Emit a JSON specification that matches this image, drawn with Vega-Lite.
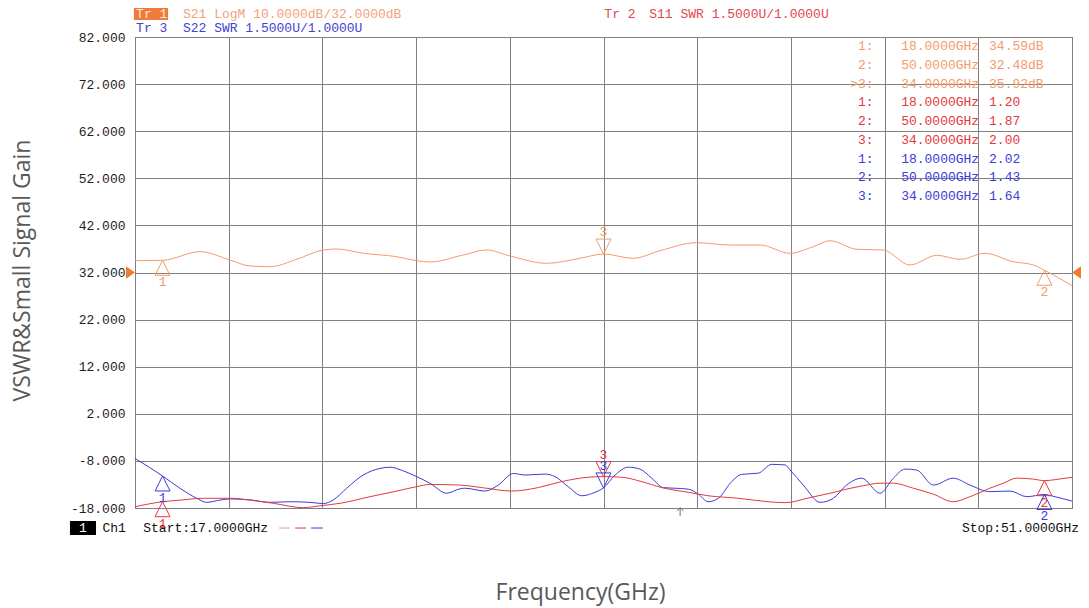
{
  "$schema": "https://vega.github.io/schema/vega-lite/v6.json",
  "width": 937,
  "height": 471,
  "autosize": "none",
  "padding": {"left": 135, "top": 37, "right": 17, "bottom": 100},
  "background": "#ffffff",
  "config": {
    "view": {"stroke": "#5a5a5a", "strokeWidth": 1},
    "text": {"font": "Liberation Mono", "fontSize": 13},
    "axis": {"gridColor": "#808080", "gridWidth": 1, "gridOpacity": 1, "domain": false, "ticks": false, "labelFont": "Liberation Mono", "labelFontSize": 13, "labelColor": "#1e1e1e", "titleFont": "Open Sans", "titleFontSize": 23, "titleFontWeight": "normal", "titleColor": "#595959"}
  },
  "datasets": {
    "s21": [
      {"f": 17.00, "v": 34.51}, {"f": 18.00, "v": 34.59}, {"f": 19.36, "v": 36.42}, {"f": 20.45, "v": 34.65},
      {"f": 21.17, "v": 33.38}, {"f": 21.90, "v": 33.23}, {"f": 22.87, "v": 34.80}, {"f": 23.83, "v": 36.78},
      {"f": 24.32, "v": 36.99}, {"f": 25.29, "v": 36.08}, {"f": 26.50, "v": 35.35}, {"f": 27.22, "v": 34.51},
      {"f": 27.70, "v": 34.23}, {"f": 28.91, "v": 35.72}, {"f": 29.76, "v": 36.78}, {"f": 30.61, "v": 35.50},
      {"f": 31.94, "v": 33.95}, {"f": 33.15, "v": 35.02}, {"f": 34.00, "v": 35.92}, {"f": 35.08, "v": 35.02},
      {"f": 36.05, "v": 36.63}, {"f": 37.38, "v": 38.33}, {"f": 38.60, "v": 37.84}, {"f": 39.68, "v": 37.84},
      {"f": 40.77, "v": 36.08}, {"f": 41.61, "v": 37.48}, {"f": 42.22, "v": 38.75}, {"f": 43.19, "v": 36.93},
      {"f": 44.15, "v": 36.78}, {"f": 45.12, "v": 33.59}, {"f": 46.09, "v": 35.65}, {"f": 46.94, "v": 34.80},
      {"f": 47.84, "v": 36.08}, {"f": 48.87, "v": 34.29}, {"f": 49.60, "v": 33.59}, {"f": 50.00, "v": 32.48},
      {"f": 51.00, "v": 29.20}
    ],
    "swr": [
      {"trace": "Tr3", "f": 17.00, "v": 2.58}, {"trace": "Tr3", "f": 18.00, "v": 2.02}, {"trace": "Tr3", "f": 18.63, "v": 1.63},
      {"trace": "Tr3", "f": 19.24, "v": 1.31}, {"trace": "Tr3", "f": 19.60, "v": 1.18}, {"trace": "Tr3", "f": 20.08, "v": 1.25},
      {"trace": "Tr3", "f": 20.45, "v": 1.29}, {"trace": "Tr3", "f": 21.17, "v": 1.26}, {"trace": "Tr3", "f": 21.90, "v": 1.18},
      {"trace": "Tr3", "f": 22.62, "v": 1.20}, {"trace": "Tr3", "f": 23.35, "v": 1.18}, {"trace": "Tr3", "f": 23.83, "v": 1.14},
      {"trace": "Tr3", "f": 24.20, "v": 1.26}, {"trace": "Tr3", "f": 24.68, "v": 1.63}, {"trace": "Tr3", "f": 25.28, "v": 2.05},
      {"trace": "Tr3", "f": 25.89, "v": 2.26}, {"trace": "Tr3", "f": 26.25, "v": 2.30}, {"trace": "Tr3", "f": 26.74, "v": 2.18},
      {"trace": "Tr3", "f": 27.22, "v": 2.00}, {"trace": "Tr3", "f": 27.70, "v": 1.79}, {"trace": "Tr3", "f": 28.31, "v": 1.47},
      {"trace": "Tr3", "f": 28.79, "v": 1.61}, {"trace": "Tr3", "f": 28.97, "v": 1.63}, {"trace": "Tr3", "f": 29.70, "v": 1.54},
      {"trace": "Tr3", "f": 30.18, "v": 1.73}, {"trace": "Tr3", "f": 30.73, "v": 2.10}, {"trace": "Tr3", "f": 31.15, "v": 2.05},
      {"trace": "Tr3", "f": 31.88, "v": 2.08}, {"trace": "Tr3", "f": 32.24, "v": 2.00}, {"trace": "Tr3", "f": 32.72, "v": 1.68},
      {"trace": "Tr3", "f": 33.21, "v": 1.39}, {"trace": "Tr3", "f": 33.69, "v": 1.50}, {"trace": "Tr3", "f": 34.00, "v": 1.64},
      {"trace": "Tr3", "f": 34.42, "v": 2.05}, {"trace": "Tr3", "f": 34.90, "v": 2.30}, {"trace": "Tr3", "f": 35.32, "v": 2.24},
      {"trace": "Tr3", "f": 35.75, "v": 1.95}, {"trace": "Tr3", "f": 36.17, "v": 1.65}, {"trace": "Tr3", "f": 36.59, "v": 1.63},
      {"trace": "Tr3", "f": 37.08, "v": 1.60}, {"trace": "Tr3", "f": 37.44, "v": 1.44}, {"trace": "Tr3", "f": 37.80, "v": 1.20},
      {"trace": "Tr3", "f": 38.17, "v": 1.31}, {"trace": "Tr3", "f": 38.65, "v": 1.84}, {"trace": "Tr3", "f": 39.01, "v": 2.07},
      {"trace": "Tr3", "f": 39.62, "v": 2.11}, {"trace": "Tr3", "f": 40.10, "v": 2.39}, {"trace": "Tr3", "f": 40.59, "v": 2.37},
      {"trace": "Tr3", "f": 40.77, "v": 2.21}, {"trace": "Tr3", "f": 41.25, "v": 1.73}, {"trace": "Tr3", "f": 41.86, "v": 1.18},
      {"trace": "Tr3", "f": 42.34, "v": 1.31}, {"trace": "Tr3", "f": 42.82, "v": 1.73}, {"trace": "Tr3", "f": 43.37, "v": 1.95},
      {"trace": "Tr3", "f": 44.03, "v": 1.47}, {"trace": "Tr3", "f": 44.52, "v": 1.95}, {"trace": "Tr3", "f": 44.94, "v": 2.24},
      {"trace": "Tr3", "f": 45.36, "v": 2.21}, {"trace": "Tr3", "f": 45.97, "v": 1.73}, {"trace": "Tr3", "f": 46.69, "v": 1.95},
      {"trace": "Tr3", "f": 47.30, "v": 1.73}, {"trace": "Tr3", "f": 48.02, "v": 1.52}, {"trace": "Tr3", "f": 48.75, "v": 1.54},
      {"trace": "Tr3", "f": 49.36, "v": 1.36}, {"trace": "Tr3", "f": 50.00, "v": 1.43}, {"trace": "Tr3", "f": 50.38, "v": 1.36},
      {"trace": "Tr3", "f": 51.00, "v": 1.22},
      {"trace": "Tr2", "f": 17.00, "v": 1.04}, {"trace": "Tr2", "f": 18.00, "v": 1.20}, {"trace": "Tr2", "f": 18.63, "v": 1.25},
      {"trace": "Tr2", "f": 19.48, "v": 1.31}, {"trace": "Tr2", "f": 20.45, "v": 1.31}, {"trace": "Tr2", "f": 21.17, "v": 1.25},
      {"trace": "Tr2", "f": 22.02, "v": 1.15}, {"trace": "Tr2", "f": 23.11, "v": 1.01}, {"trace": "Tr2", "f": 23.71, "v": 1.07},
      {"trace": "Tr2", "f": 24.44, "v": 1.15}, {"trace": "Tr2", "f": 25.53, "v": 1.36}, {"trace": "Tr2", "f": 26.50, "v": 1.54},
      {"trace": "Tr2", "f": 27.22, "v": 1.68}, {"trace": "Tr2", "f": 27.70, "v": 1.75}, {"trace": "Tr2", "f": 28.79, "v": 1.73},
      {"trace": "Tr2", "f": 29.58, "v": 1.65}, {"trace": "Tr2", "f": 30.67, "v": 1.54}, {"trace": "Tr2", "f": 31.63, "v": 1.65},
      {"trace": "Tr2", "f": 32.48, "v": 1.84}, {"trace": "Tr2", "f": 33.45, "v": 1.98}, {"trace": "Tr2", "f": 34.00, "v": 2.00},
      {"trace": "Tr2", "f": 34.66, "v": 1.98}, {"trace": "Tr2", "f": 35.39, "v": 1.84}, {"trace": "Tr2", "f": 36.11, "v": 1.65},
      {"trace": "Tr2", "f": 37.08, "v": 1.50}, {"trace": "Tr2", "f": 37.80, "v": 1.39}, {"trace": "Tr2", "f": 38.89, "v": 1.31},
      {"trace": "Tr2", "f": 39.98, "v": 1.20}, {"trace": "Tr2", "f": 40.59, "v": 1.17}, {"trace": "Tr2", "f": 41.49, "v": 1.33},
      {"trace": "Tr2", "f": 42.22, "v": 1.47}, {"trace": "Tr2", "f": 42.82, "v": 1.60}, {"trace": "Tr2", "f": 43.43, "v": 1.71},
      {"trace": "Tr2", "f": 44.03, "v": 1.79}, {"trace": "Tr2", "f": 44.52, "v": 1.79}, {"trace": "Tr2", "f": 45.24, "v": 1.63},
      {"trace": "Tr2", "f": 45.97, "v": 1.44}, {"trace": "Tr2", "f": 46.69, "v": 1.20}, {"trace": "Tr2", "f": 47.30, "v": 1.36},
      {"trace": "Tr2", "f": 48.02, "v": 1.63}, {"trace": "Tr2", "f": 48.51, "v": 1.79}, {"trace": "Tr2", "f": 48.99, "v": 1.95},
      {"trace": "Tr2", "f": 49.60, "v": 1.92}, {"trace": "Tr2", "f": 50.00, "v": 1.87}, {"trace": "Tr2", "f": 50.45, "v": 1.91},
      {"trace": "Tr2", "f": 51.00, "v": 1.98}
    ],
    "markers": [
      {"trace": "Tr1", "m": "1", "f": 18, "v": 34.59, "dir": "up"},
      {"trace": "Tr1", "m": "2", "f": 50, "v": 32.48, "dir": "up"},
      {"trace": "Tr1", "m": "3", "f": 34, "v": 35.92, "dir": "down"},
      {"trace": "Tr2", "m": "1", "f": 18, "v": 1.20, "dir": "up"},
      {"trace": "Tr2", "m": "2", "f": 50, "v": 1.87, "dir": "up"},
      {"trace": "Tr2", "m": "3", "f": 34, "v": 2.00, "dir": "down"},
      {"trace": "Tr3", "m": "1", "f": 18, "v": 2.02, "dir": "up"},
      {"trace": "Tr3", "m": "2", "f": 50, "v": 1.43, "dir": "up"},
      {"trace": "Tr3", "m": "3", "f": 34, "v": 1.64, "dir": "down"}
    ],
    "table": [
      {"row": 1, "trace": "Tr1", "lab": "1:", "freq": "18.0000GHz", "val": "34.59dB"},
      {"row": 2, "trace": "Tr1", "lab": "2:", "freq": "50.0000GHz", "val": "32.48dB"},
      {"row": 3, "trace": "Tr1", "lab": ">3:", "freq": "34.0000GHz", "val": "35.92dB"},
      {"row": 4, "trace": "Tr2", "lab": "1:", "freq": "18.0000GHz", "val": "1.20"},
      {"row": 5, "trace": "Tr2", "lab": "2:", "freq": "50.0000GHz", "val": "1.87"},
      {"row": 6, "trace": "Tr2", "lab": "3:", "freq": "34.0000GHz", "val": "2.00"},
      {"row": 7, "trace": "Tr3", "lab": "1:", "freq": "18.0000GHz", "val": "2.02"},
      {"row": 8, "trace": "Tr3", "lab": "2:", "freq": "50.0000GHz", "val": "1.43"},
      {"row": 9, "trace": "Tr3", "lab": "3:", "freq": "34.0000GHz", "val": "1.64"}
    ]
  },
  "layer": [
    {
      "layer": [
        {
          "data": {"name": "s21"},
          "mark": {"type": "line", "strokeWidth": 1, "color": "#F29C6C", "interpolate": "monotone"},
          "encoding": {
            "x": {"field": "f", "type": "quantitative", "scale": {"domain": [17, 51], "nice": false, "zero": false},
              "axis": {"values": [17, 20.4, 23.8, 27.2, 30.6, 34, 37.4, 40.8, 44.2, 47.6, 51], "grid": true, "labels": false, "title": "Frequency(GHz)", "titleX": 445, "titleY": 84, "titleBaseline": "middle", "titleAlign": "center"}},
            "y": {"field": "v", "type": "quantitative", "scale": {"domain": [-18, 82], "nice": false, "zero": false},
              "axis": {"values": [-18, -8, 2, 12, 22, 32, 42, 52, 62, 72, 82], "grid": true, "labelPadding": 10, "labelExpr": "(datum.value < 0 ? '-' : '') + format(abs(datum.value), '.3f')", "title": "VSWR&Small Signal Gain", "titleX": -113, "titleY": 233, "titleAngle": -90, "titleBaseline": "middle", "titleAlign": "center"}}
          }
        },
        {
          "data": {"name": "markers"},
          "transform": [{"filter": "datum.trace == 'Tr1'"}],
          "mark": {"type": "point", "filled": false, "strokeWidth": 1, "size": 900, "opacity": 1},
          "encoding": {
            "x": {"field": "f", "type": "quantitative"},
            "y": {"field": "v", "type": "quantitative"},
            "shape": {"field": "dir", "type": "nominal", "scale": {"domain": ["up", "down"], "range": ["M0,0L0.5,1L-0.5,1Z", "M0,0L0.5,-1L-0.5,-1Z"]}, "legend": null},
            "color": {"field": "trace", "type": "nominal", "scale": {"domain": ["Tr1", "Tr2", "Tr3"], "range": ["#F29C6C", "#E3393E", "#3C3CD6"]}, "legend": null}
          }
        },
        {
          "data": {"name": "markers"},
          "transform": [{"filter": "datum.trace == 'Tr1' && datum.dir == 'up'"}],
          "mark": {"type": "text", "dy": 22},
          "encoding": {
            "x": {"field": "f", "type": "quantitative"},
            "y": {"field": "v", "type": "quantitative"},
            "text": {"field": "m"},
            "color": {"field": "trace", "type": "nominal", "scale": {"domain": ["Tr1", "Tr2", "Tr3"], "range": ["#F29C6C", "#E3393E", "#3C3CD6"]}, "legend": null}
          }
        },
        {
          "data": {"name": "markers"},
          "transform": [{"filter": "datum.trace == 'Tr1' && datum.dir == 'down'"}],
          "mark": {"type": "text", "dy": -22},
          "encoding": {
            "x": {"field": "f", "type": "quantitative"},
            "y": {"field": "v", "type": "quantitative"},
            "text": {"field": "m"},
            "color": {"field": "trace", "type": "nominal", "scale": {"domain": ["Tr1", "Tr2", "Tr3"], "range": ["#F29C6C", "#E3393E", "#3C3CD6"]}, "legend": null}
          }
        },
        {
          "data": {"values": [{"ref": 32}]},
          "mark": {"type": "point", "filled": true, "shape": "M0,0L-1,-0.7L-1,0.7Z", "size": 324, "color": "#F27A2C", "opacity": 1},
          "encoding": {"x": {"datum": 17, "type": "quantitative"}, "y": {"field": "ref", "type": "quantitative"}}
        },
        {
          "data": {"values": [{"ref": 32}]},
          "mark": {"type": "point", "filled": true, "shape": "M0,0L1,-0.7L1,0.7Z", "size": 324, "color": "#F27A2C", "opacity": 1},
          "encoding": {"x": {"datum": 51, "type": "quantitative"}, "y": {"field": "ref", "type": "quantitative"}}
        },
        {
          "data": {"values": [{"box": "Tr 1"}]},
          "mark": {"type": "rect", "color": "#F07A3C"},
          "encoding": {"x": {"datum": 16.96, "type": "quantitative"}, "x2": {"datum": 18.2}, "y": {"datum": 88.16, "type": "quantitative"}, "y2": {"datum": 85.61}}
        },
        {
          "data": {"values": [{"t": "Tr 1"}]},
          "mark": {"type": "text", "align": "left", "color": "#FDE6D6"},
          "encoding": {"x": {"datum": 17.04, "type": "quantitative"}, "y": {"datum": 86.88, "type": "quantitative"}, "text": {"field": "t"}}
        },
        {
          "data": {"values": [{"t": "S21 LogM 10.0000dB/32.0000dB"}]},
          "mark": {"type": "text", "align": "left", "color": "#F2A27C"},
          "encoding": {"x": {"datum": 18.74, "type": "quantitative"}, "y": {"datum": 86.88, "type": "quantitative"}, "text": {"field": "t"}}
        },
        {
          "data": {"values": [{"t": "Tr 3"}]},
          "mark": {"type": "text", "align": "left", "color": "#4343D0"},
          "encoding": {"x": {"datum": 17.04, "type": "quantitative"}, "y": {"datum": 83.91, "type": "quantitative"}, "text": {"field": "t"}}
        },
        {
          "data": {"values": [{"t": "S22 SWR 1.5000U/1.0000U"}]},
          "mark": {"type": "text", "align": "left", "color": "#4343D0"},
          "encoding": {"x": {"datum": 18.74, "type": "quantitative"}, "y": {"datum": 83.91, "type": "quantitative"}, "text": {"field": "t"}}
        },
        {
          "data": {"values": [{"t": "Tr 2"}]},
          "mark": {"type": "text", "align": "left", "color": "#E3474C"},
          "encoding": {"x": {"datum": 34.03, "type": "quantitative"}, "y": {"datum": 86.8, "type": "quantitative"}, "text": {"field": "t"}}
        },
        {
          "data": {"values": [{"t": "S11 SWR 1.5000U/1.0000U"}]},
          "mark": {"type": "text", "align": "left", "color": "#E3474C"},
          "encoding": {"x": {"datum": 35.66, "type": "quantitative"}, "y": {"datum": 86.8, "type": "quantitative"}, "text": {"field": "t"}}
        },
        {
          "data": {"values": [{"box": "1"}]},
          "mark": {"type": "rect", "color": "#000000"},
          "encoding": {"x": {"datum": 14.64, "type": "quantitative"}, "x2": {"datum": 15.585}, "y": {"datum": -20.76, "type": "quantitative"}, "y2": {"datum": -23.73}}
        },
        {
          "data": {"values": [{"t": "1"}]},
          "mark": {"type": "text", "align": "center", "color": "#ffffff"},
          "encoding": {"x": {"datum": 15.11, "type": "quantitative"}, "y": {"datum": -22.25, "type": "quantitative"}, "text": {"field": "t"}}
        },
        {
          "data": {"values": [{"t": "Ch1"}]},
          "mark": {"type": "text", "align": "left", "color": "#111111"},
          "encoding": {"x": {"datum": 15.82, "type": "quantitative"}, "y": {"datum": -22.25, "type": "quantitative"}, "text": {"field": "t"}}
        },
        {
          "data": {"values": [{"t": "Start:17.0000GHz"}]},
          "mark": {"type": "text", "align": "left", "color": "#111111"},
          "encoding": {"x": {"datum": 17.3, "type": "quantitative"}, "y": {"datum": -22.25, "type": "quantitative"}, "text": {"field": "t"}}
        },
        {
          "data": {"values": [{"t": "Stop:51.0000GHz"}]},
          "mark": {"type": "text", "align": "right", "color": "#111111"},
          "encoding": {"x": {"datum": 51.254, "type": "quantitative"}, "y": {"datum": -22.25, "type": "quantitative"}, "text": {"field": "t"}}
        },
        {
          "data": {"values": [{"k": "Tr1"}]},
          "mark": {"type": "rule", "color": "#F29C6C", "strokeWidth": 1},
          "encoding": {"x": {"datum": 22.23, "type": "quantitative"}, "x2": {"datum": 22.61}, "y": {"datum": -22.25, "type": "quantitative"}}
        },
        {
          "data": {"values": [{"k": "Tr2"}]},
          "mark": {"type": "rule", "color": "#E3393E", "strokeWidth": 1},
          "encoding": {"x": {"datum": 22.81, "type": "quantitative"}, "x2": {"datum": 23.21}, "y": {"datum": -22.25, "type": "quantitative"}}
        },
        {
          "data": {"values": [{"k": "Tr3"}]},
          "mark": {"type": "rule", "color": "#3C3CD6", "strokeWidth": 1},
          "encoding": {"x": {"datum": 23.39, "type": "quantitative"}, "x2": {"datum": 23.82}, "y": {"datum": -22.25, "type": "quantitative"}}
        },
        {
          "data": {"values": [{"k": "arrow"}]},
          "mark": {"type": "point", "filled": false, "shape": "M0,-1L0,1M-0.8,-0.2L0,-1L0.8,-0.2", "size": 64, "color": "#6e6e6e", "strokeWidth": 1, "opacity": 1},
          "encoding": {"x": {"datum": 36.78, "type": "quantitative"}, "y": {"datum": -18.8, "type": "quantitative"}}
        }
      ]
    },
    {
      "layer": [
        {
          "data": {"name": "swr"},
          "mark": {"type": "line", "strokeWidth": 1, "interpolate": "monotone"},
          "encoding": {
            "x": {"field": "f", "type": "quantitative", "scale": {"domain": [17, 51], "nice": false, "zero": false}},
            "y": {"field": "v", "type": "quantitative", "scale": {"domain": [1, 16], "nice": false, "zero": false}, "axis": null},
            "color": {"field": "trace", "type": "nominal", "scale": {"domain": ["Tr1", "Tr2", "Tr3"], "range": ["#F29C6C", "#E3393E", "#3C3CD6"]}, "legend": null}
          }
        },
        {
          "data": {"name": "markers"},
          "transform": [{"filter": "datum.trace != 'Tr1'"}],
          "mark": {"type": "point", "filled": false, "strokeWidth": 1, "size": 900, "opacity": 1},
          "encoding": {
            "x": {"field": "f", "type": "quantitative"},
            "y": {"field": "v", "type": "quantitative", "axis": null},
            "shape": {"field": "dir", "type": "nominal", "scale": {"domain": ["up", "down"], "range": ["M0,0L0.5,1L-0.5,1Z", "M0,0L0.5,-1L-0.5,-1Z"]}, "legend": null},
            "color": {"field": "trace", "type": "nominal", "scale": {"domain": ["Tr1", "Tr2", "Tr3"], "range": ["#F29C6C", "#E3393E", "#3C3CD6"]}, "legend": null}
          }
        },
        {
          "data": {"name": "markers"},
          "transform": [{"filter": "datum.trace != 'Tr1' && datum.dir == 'up'"}],
          "mark": {"type": "text", "dy": 22},
          "encoding": {
            "x": {"field": "f", "type": "quantitative"},
            "y": {"field": "v", "type": "quantitative", "axis": null},
            "text": {"field": "m"},
            "color": {"field": "trace", "type": "nominal", "scale": {"domain": ["Tr1", "Tr2", "Tr3"], "range": ["#F29C6C", "#E3393E", "#3C3CD6"]}, "legend": null}
          }
        },
        {
          "data": {"name": "markers"},
          "transform": [{"filter": "datum.trace != 'Tr1' && datum.dir == 'down'"}],
          "mark": {"type": "text", "dy": -22},
          "encoding": {
            "x": {"field": "f", "type": "quantitative"},
            "y": {"field": "v", "type": "quantitative", "axis": null},
            "text": {"field": "m"},
            "color": {"field": "trace", "type": "nominal", "scale": {"domain": ["Tr1", "Tr2", "Tr3"], "range": ["#F29C6C", "#E3393E", "#3C3CD6"]}, "legend": null}
          }
        }
      ]
    },
    {
      "data": {"name": "table"},
      "encoding": {
        "y": {"field": "row", "type": "quantitative", "scale": {"domain": [0.52, 25.64], "reverse": true, "nice": false, "zero": false}, "axis": null},
        "color": {"field": "trace", "type": "nominal", "scale": {"domain": ["Tr1", "Tr2", "Tr3"], "range": ["#F29C6C", "#E3393E", "#3C3CD6"]}, "legend": null}
      },
      "layer": [
        {"mark": {"type": "text", "align": "right", "baseline": "middle"}, "encoding": {"x": {"datum": 43.8, "type": "quantitative"}, "text": {"field": "lab"}}},
        {"mark": {"type": "text", "align": "left", "baseline": "middle"}, "encoding": {"x": {"datum": 44.8, "type": "quantitative"}, "text": {"field": "freq"}}},
        {"mark": {"type": "text", "align": "left", "baseline": "middle"}, "encoding": {"x": {"datum": 47.99, "type": "quantitative"}, "text": {"field": "val"}}}
      ]
    }
  ],
  "resolve": {"scale": {"y": "independent"}}
}
